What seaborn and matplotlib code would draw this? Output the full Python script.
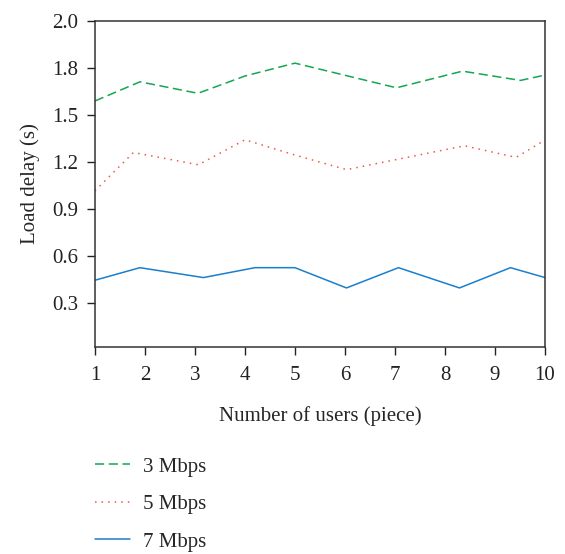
import numpy as np
import pandas as pd
import matplotlib
matplotlib.use("Agg")
import matplotlib.pyplot as plt
import seaborn as sns

# =========================
# DATOS
# =========================
x_3mbps = [1, 1.9, 3.06, 4.0, 5.0, 7.03, 8.35, 9.51, 10]
y_3mbps = [1.589, 1.711, 1.638, 1.748, 1.83, 1.673, 1.779, 1.72, 1.754]

x_5mbps = [1, 1.77, 3.07, 4.0, 5.0, 6.03, 8.39, 9.42, 10]
y_5mbps = [1.017, 1.261, 1.183, 1.342, 1.245, 1.152, 1.304, 1.23, 1.34]

x_7mbps = [1, 1.9, 3.17, 4.2, 5.0, 6.03, 7.07, 8.29, 9.31, 10]
y_7mbps = [0.448, 0.528, 0.465, 0.528, 0.528, 0.399, 0.528, 0.399, 0.528, 0.465]

series = ["3 Mbps", "5 Mbps", "7 Mbps"]
x_ticks = [1, 2, 3, 4, 5, 6, 7, 8, 9, 10]
y_ticks = [0.3, 0.6, 0.9, 1.2, 1.5, 1.8, 2.1]
y_ticklabels = ["0.3", "0.6", "0.9", "1.2", "1.5", "1.8", "2.0"]

df = pd.concat([
    pd.DataFrame({"x": x_3mbps, "y": y_3mbps, "serie": series[0]}),
    pd.DataFrame({"x": x_5mbps, "y": y_5mbps, "serie": series[1]}),
    pd.DataFrame({"x": x_7mbps, "y": y_7mbps, "serie": series[2]}),
], ignore_index=True)

# =========================
# ESTILO
# =========================
sns.set_style("ticks")
plt.rcParams["font.family"] = ["Liberation Serif", "DejaVu Serif"]
plt.rcParams["font.size"] = 15

colores = {"3 Mbps": "#14a650", "5 Mbps": "#ee5a45", "7 Mbps": "#1a7fcc"}
trazos = {"3 Mbps": (6, 3), "5 Mbps": (1, 3.3), "7 Mbps": ""}

fig = plt.figure(figsize=(5.65, 5.54), dpi=100)
ax = fig.add_axes([0.168, 0.3742, 0.9646 - 0.168, 0.9626 - 0.3742])

sns.lineplot(
    data=df, x="x", y="y", hue="serie", style="serie",
    palette=colores, dashes=trazos, sort=False, estimator=None,
    linewidth=1.1, ax=ax, legend=True
)

ax.set_xlim(1, 10)
ax.set_ylim(0.025, 2.1)
ax.set_xticks(x_ticks)
ax.set_yticks(y_ticks)
ax.set_yticklabels(y_ticklabels)
ax.tick_params(axis="both", direction="out", length=6, width=1, colors="#222222",
               labelsize=15)
ax.tick_params(axis="x", pad=8)
ax.tick_params(axis="y", pad=6)
for s in ax.spines.values():
    s.set_color("#333333")
    s.set_linewidth(1.1)

ax.set_xlabel("Number of users (piece)", fontsize=15, labelpad=15)
ax.set_ylabel("Load delay (s)", fontsize=15, labelpad=9)

handles, labels = ax.get_legend_handles_labels()
ax.get_legend().remove()
fig.legend(
    handles, labels, loc="upper left", bbox_to_anchor=(0.135, 0.209),
    frameon=False, handlelength=1.7, labelspacing=0.86, handletextpad=0.62,
    fontsize=15
)

plt.savefig("out.png", dpi=100)
